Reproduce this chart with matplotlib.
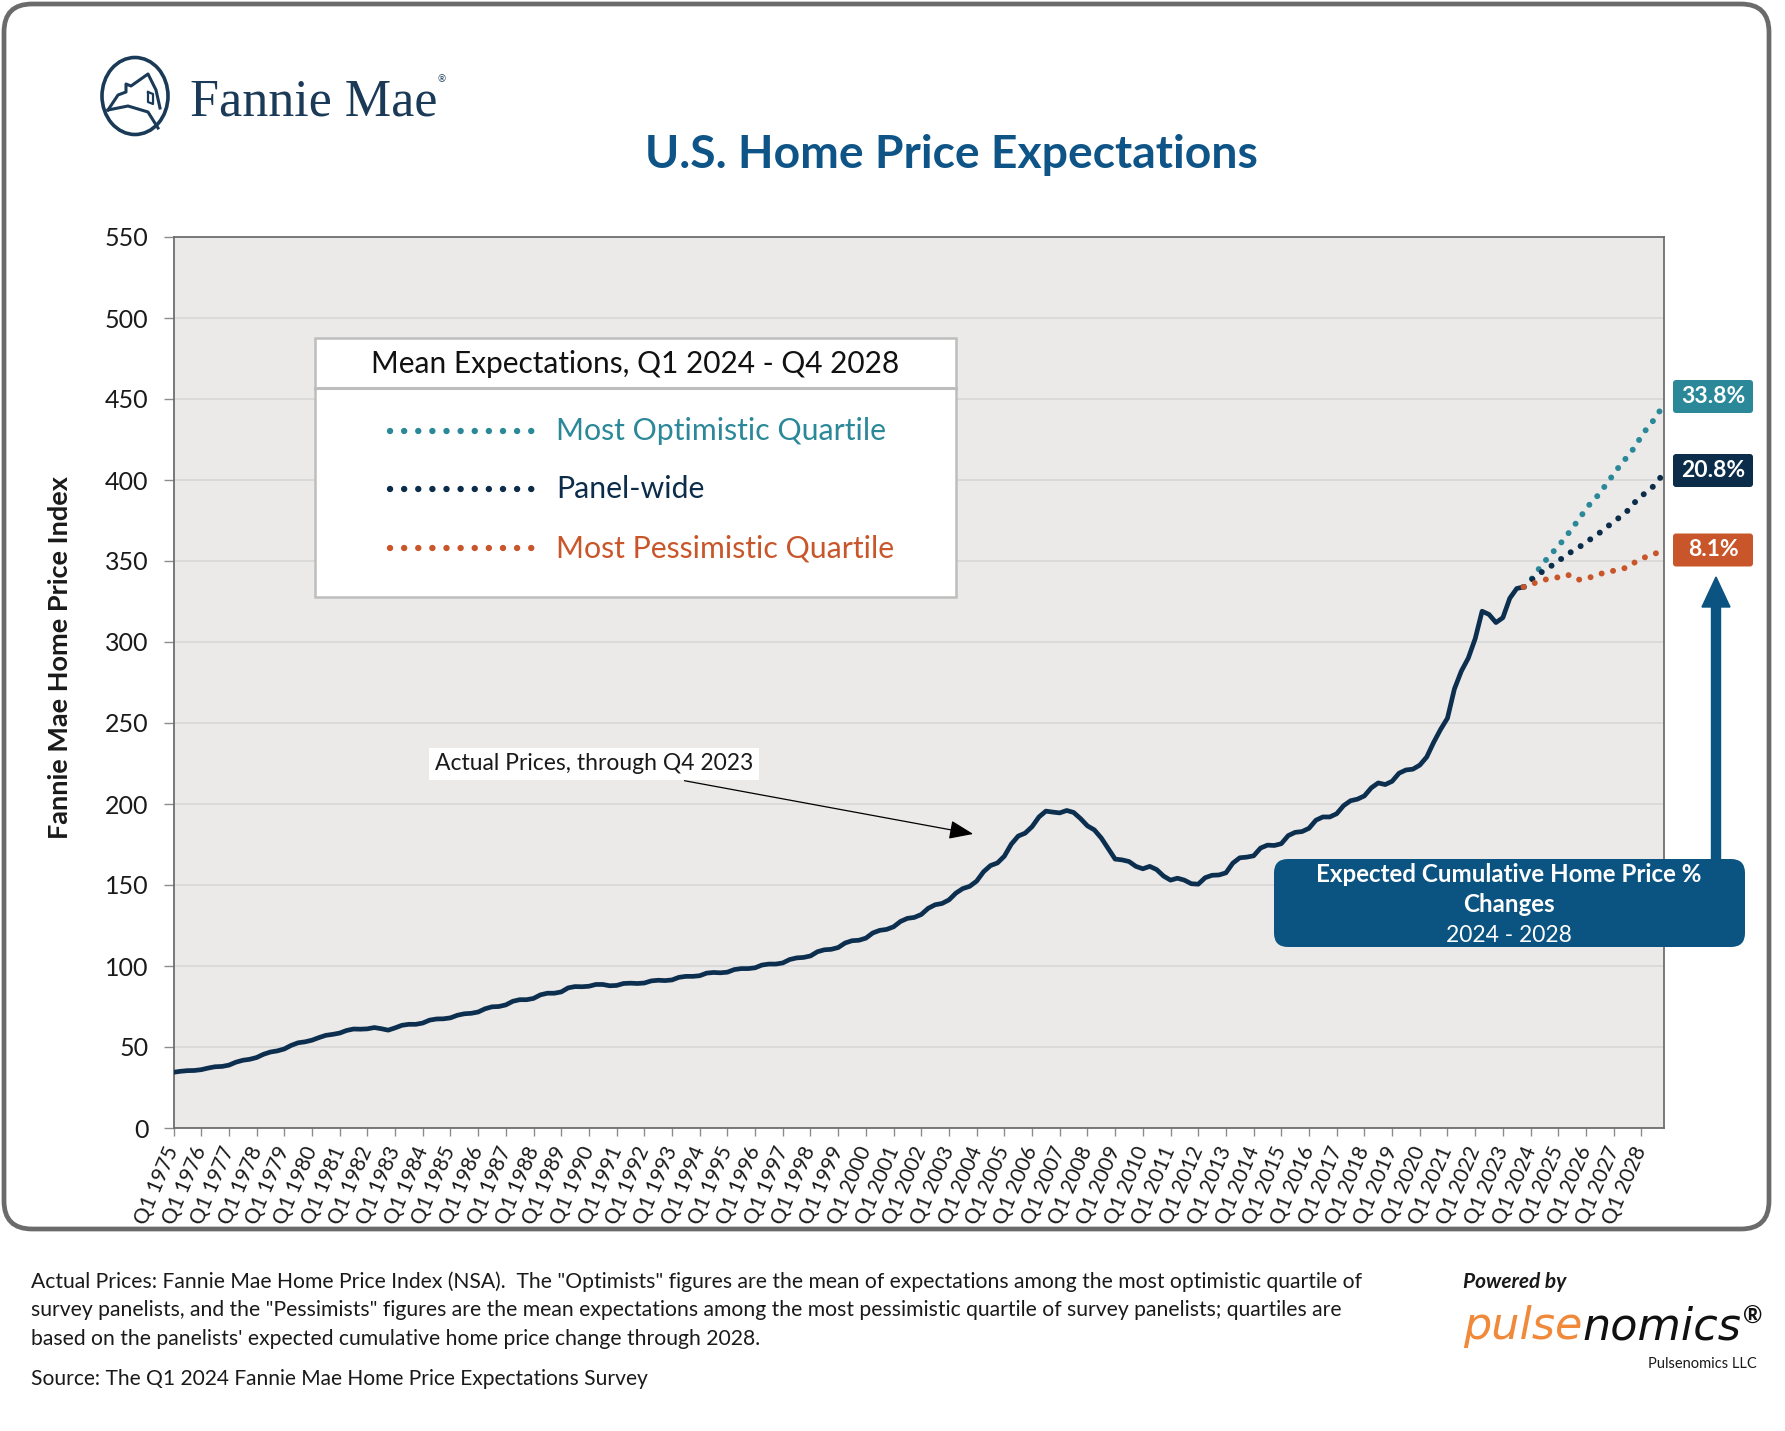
import matplotlib
matplotlib.use("Agg")
import numpy as np
import matplotlib.pyplot as plt
from matplotlib.patches import FancyBboxPatch, Rectangle, Ellipse, FancyArrow
from matplotlib.lines import Line2D

W, H = 1785, 1431
plt.rcParams['font.family'] = ['Lato', 'DejaVu Sans']

# quarterly index, Q1 1975 .. Q4 2023 (one row per year)
actual = [
    34.4, 35.0, 35.4, 35.5,  36.0, 37.0, 37.8, 38.0,  38.8, 40.6, 41.8, 42.4,
    43.5, 45.5, 46.9, 47.6,  48.8, 51.0, 52.6, 53.2,  54.2, 55.8, 57.2, 57.8,
    58.6, 60.2, 61.1, 61.0,  61.2, 62.0, 61.3, 60.4,  61.8, 63.4, 64.0, 64.0,
    64.8, 66.6, 67.3, 67.4,  68.0, 69.6, 70.5, 70.8,  71.6, 73.6, 74.8, 75.0,
    76.0, 78.2, 79.2, 79.2,  80.0, 82.2, 83.2, 83.2,  84.0, 86.5, 87.3, 87.2,
    87.5, 88.6, 88.6, 87.8,  88.0, 89.2, 89.4, 89.2,  89.5, 90.8, 91.2, 91.0,
    91.4, 93.0, 93.6, 93.6,  94.0, 95.6, 96.0, 95.8,  96.2, 97.8, 98.4, 98.4,
    98.9, 100.6, 101.2, 101.2,  101.9, 104.0, 105.0, 105.3,  106.2, 108.8, 110.0, 110.3,
    111.4, 114.2, 115.6, 115.9,  117.2, 120.4, 122.0, 122.6,  124.2, 127.5, 129.4, 130.0,
    131.8, 135.6, 137.8, 138.6,  140.8, 145.0, 147.8, 149.2,  152.4, 158.2, 162.0, 163.6,
    167.8, 175.2, 180.2, 182.0,  186.0, 192.0, 195.6, 195.0,  194.5, 196.0, 194.8, 191.0,
    186.5, 184.0, 179.0, 172.5,  166.0, 165.5, 164.5, 161.5,  160.0, 161.5, 159.5, 155.5,
    153.0, 154.2, 153.0, 150.8,  150.5, 154.5, 156.0, 156.2,  157.5, 163.5, 166.8, 167.2,
    168.0, 172.8, 174.6, 174.4,  175.5, 180.5, 182.5, 183.0,  185.0, 190.0, 192.0, 192.0,
    194.0, 199.0, 202.0, 203.0,  205.0, 210.0, 213.0, 212.0,  214.0, 219.0, 221.0, 221.5,
    224.0, 229.0, 238.0, 246.0,  253.0, 271.0, 282.0, 290.0,  302.0, 319.0, 317.0, 312.0,
    315.0, 327.0, 333.0, 334.0,
]

# mean expectations, Q1 2024 .. Q4 2028
optimistic = [338, 344, 349.5, 354.5, 359, 364.5, 370, 376, 382, 387.5,
              391.5, 398, 403.5, 409.5, 414.5, 420, 427, 433, 438, 445]
panel_wide = [338, 341, 344.5, 347, 350, 353, 356, 358.5, 361.5, 364.5,
              367.5, 371, 374, 377.5, 381, 386, 390, 393.5, 397, 403]
pessimistic = [335.5, 337, 338.5, 339, 340, 341.5, 341, 338.5, 339, 340.5,
               342, 343, 344, 345, 346, 349, 351.5, 353, 354.5, 357]

series_names = ["Most Optimistic Quartile", "Panel-wide", "Most Pessimistic Quartile"]
pct_changes = ["33.8%", "20.8%", "8.1%"]
years = list(range(1975, 2029))
tick_labels = [f"Q1 {y}" for y in years]

TEAL = '#2a8898'
NAVY = '#0c2d4a'
ORANGE = '#c9562a'
BLUE = '#0b5380'
LINE = '#0d2f4f'

fig = plt.figure(figsize=(W / 100, H / 100), dpi=100)
T = fig.dpi_scale_trans


def ix(px):
    return px / 100


def iy(py):
    return (H - py) / 100


# outer rounded frame
fig.patches.append(FancyBboxPatch((ix(4), iy(1229)), ix(1765), (1229 - 4) / 100,
                                  boxstyle='round,pad=0,rounding_size=0.28',
                                  transform=T, fill=False, ec='#6b6b6b', lw=3.4))

ax = fig.add_axes([173.5 / W, 1 - 1128 / H, (1663.5 - 173.5) / W, (1128 - 237) / H])
ax.set_facecolor('#ebeae8')

xa = np.arange(len(actual))
xf = np.arange(len(actual) - 1, len(actual) + len(optimistic))
ax.plot(xa, actual, color=LINE, lw=3.4, solid_joinstyle='round', zorder=3)
dots = dict(lw=4.3, linestyle=(0, (0.01, 1.95)), dash_capstyle='round', zorder=4)
for vals, c in [(optimistic, TEAL), (panel_wide, NAVY), (pessimistic, ORANGE)]:
    ax.plot(xf, [actual[-1]] + vals, color=c, **dots)

ax.set_xlim(0, 215.2)
ax.set_ylim(0, 550)
ax.set_yticks(range(0, 551, 50))
ax.yaxis.grid(True, color='#d6d6d6', lw=1.1)
ax.set_axisbelow(True)
ax.set_xticks(np.arange(0, len(years) * 4, 4))
ax.set_xticklabels(tick_labels, rotation=67, ha='right', va='center',
                   rotation_mode='anchor', fontsize=15, color='#1a1a1a')
ax.tick_params(axis='y', labelsize=18, colors='#8c8c8c', labelcolor='#1a1a1a',
               length=7, width=1, pad=11)
ax.tick_params(axis='x', colors='#8c8c8c', labelcolor='#1a1a1a', length=6, width=1, pad=8)
for s in ax.spines.values():
    s.set_color('#6e6e6e')
    s.set_linewidth(1.3)

fig.text(ix(60), iy(658), 'Fannie Mae Home Price Index', transform=T, rotation=90,
         ha='center', va='center', fontsize=19.5, fontweight='bold', color='#1a1a1a')

# annotation for actual prices
ax.annotate('Actual Prices, through Q4 2023', xy=(115.5, 181.5), xytext=(60.7, 224.7),
            ha='center', va='center', fontsize=16.5, color='#1a1a1a',
            bbox=dict(boxstyle='square,pad=0.25', fc='white', ec='none'),
            arrowprops=dict(arrowstyle='-|>,head_length=0.9,head_width=0.35',
                            color='black', lw=0.9, shrinkA=2, shrinkB=0))

# legend box
fig.patches.append(Rectangle((ix(315), iy(597)), ix(956 - 315), (597 - 338) / 100,
                             transform=T, fc='white', ec='#bdbdbd', lw=1.8, zorder=5))
fig.lines.append(Line2D([ix(315), ix(956)], [iy(388), iy(388)], transform=T,
                        color='#bdbdbd', lw=2.2, zorder=6))
fig.text(ix(635), iy(364), 'Mean Expectations, Q1 2024 - Q4 2028', transform=T,
         ha='center', va='center', fontsize=21.5, color='#111111', zorder=7)
for i, (name, c) in enumerate(zip(series_names, [TEAL, NAVY, ORANGE])):
    yy = [431, 489, 548][i]
    fig.lines.append(Line2D([ix(390), ix(537)], [iy(yy), iy(yy)], transform=T, color=c,
                            lw=4.6, linestyle=(0, (0.01, 2.2)), dash_capstyle='round', zorder=7))
    fig.text(ix(556), iy(yy), name, transform=T, ha='left', va='center',
             fontsize=21.8, color=c, zorder=7)

# percentage labels at right
for pct, c, yc in zip(pct_changes, [TEAL, NAVY, ORANGE], [396.5, 470.5, 550]):
    fig.patches.append(FancyBboxPatch((ix(1673), iy(yc + 16.5)), 0.8, 0.33,
                                      boxstyle='round,pad=0,rounding_size=0.03',
                                      transform=T, fc=c, ec='none'))
    fig.text(ix(1713), iy(yc), pct, transform=T, ha='center', va='center',
             fontsize=16.5, fontweight='bold', color='white')

# up arrow and blue box
fig.patches.append(FancyArrow(ix(1716), iy(862), 0, (862 - 577) / 100, width=0.09,
                              head_width=0.28, head_length=0.3, length_includes_head=True,
                              transform=T, color=BLUE))
fig.patches.append(FancyBboxPatch((ix(1274), iy(947)), ix(1745 - 1274), (947 - 859) / 100,
                                  boxstyle='round,pad=0,rounding_size=0.14',
                                  transform=T, fc=BLUE, ec='none'))
fig.text(ix(1509), iy(874), 'Expected Cumulative Home Price %', transform=T, ha='center',
         va='center', fontsize=17.4, fontweight='bold', color='white')
fig.text(ix(1509), iy(904), 'Changes', transform=T, ha='center',
         va='center', fontsize=17.4, fontweight='bold', color='white')
fig.text(ix(1509), iy(935), '2024 - 2028', transform=T, ha='center',
         va='center', fontsize=16.5, color='white')

# title and logo
fig.text(ix(951), iy(155), 'U.S. Home Price Expectations', transform=T, ha='center',
         va='center', fontsize=33.3, fontweight='bold', color='#0e5487')
LOGO = '#1b3a57'
fig.patches.append(Ellipse((ix(135), iy(96)), 0.66, 0.77, transform=T,
                           fill=False, ec=LOGO, lw=2.6))
house_x = [108, 118, 126, 126, 131, 148, 156, 160]
house_y = [110, 95, 92, 84, 86, 74, 90, 108]
fig.lines.append(Line2D([ix(v) for v in house_x], [iy(v) for v in house_y],
                        transform=T, color=LOGO, lw=2.2))
fig.lines.append(Line2D([ix(108), ix(128), ix(148), ix(158)],
                        [iy(110), iy(106), iy(112), iy(128)], transform=T, color=LOGO, lw=2.2))
fig.lines.append(Line2D([ix(148), ix(148), ix(153), ix(153), ix(148)],
                        [iy(92), iy(102), iy(104), iy(94), iy(92)], transform=T, color=LOGO, lw=1.6))
fig.text(ix(190), iy(116), 'Fannie Mae', transform=T, ha='left', va='baseline',
         fontsize=37.5, family='Liberation Serif', color=LOGO)
fig.text(ix(437), iy(80), '®', transform=T, ha='left', va='center', fontsize=7, color=LOGO)

# footer notes
notes = [
    'Actual Prices: Fannie Mae Home Price Index (NSA).  The "Optimists" figures are the mean of expectations among the most optimistic quartile of',
    'survey panelists, and the "Pessimists" figures are the mean expectations among the most pessimistic quartile of survey panelists; quartiles are',
    "based on the panelists' expected cumulative home price change through 2028.",
]
for i, line in enumerate(notes):
    fig.text(ix(31), iy(1282 + 28.5 * i), line, transform=T, ha='left', va='center',
             fontsize=15.2, color='#1a1a1a')
fig.text(ix(31), iy(1379), 'Source: The Q1 2024 Fannie Mae Home Price Expectations Survey',
         transform=T, ha='left', va='center', fontsize=15.1, color='#1a1a1a')

# pulsenomics block
fig.text(ix(1463), iy(1282), 'Powered by', transform=T, ha='left', va='center',
         fontsize=15, fontweight='bold', style='italic', color='#1a1a1a')
t1 = fig.text(ix(1463), iy(1327), 'pulse', transform=T, ha='left', va='center',
              fontsize=32, style='italic', family='DejaVu Sans', color='#f0893a')
r = fig.canvas.get_renderer()
bb = t1.get_window_extent(renderer=r)
t2 = fig.text(bb.x1 / 100, iy(1327), 'nomics', transform=T, ha='left', va='center',
              fontsize=32, style='italic', family='DejaVu Sans', color='#111111')
bb2 = t2.get_window_extent(renderer=r)
fig.text(bb2.x1 / 100 + 0.02, iy(1316), '®', transform=T, ha='left', va='center',
         fontsize=17, fontweight='bold', color='#111111')
fig.text(ix(1757), iy(1364), 'Pulsenomics LLC', transform=T, ha='right', va='center',
         fontsize=10.5, color='#1a1a1a')

fig.savefig('out.png', dpi=100)
